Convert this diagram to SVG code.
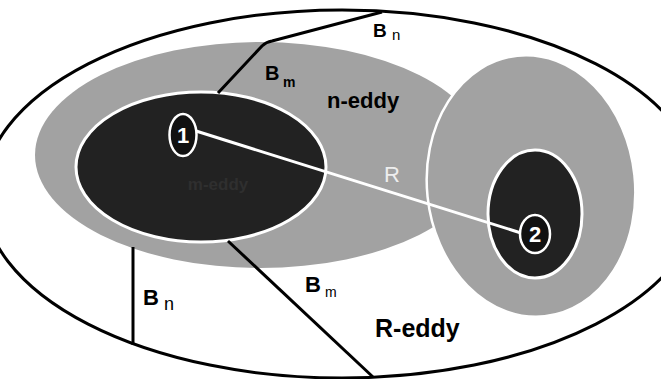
<svg xmlns="http://www.w3.org/2000/svg" width="661" height="379" viewBox="0 0 661 379">
  <style>
    .lbl { font-family: "Liberation Sans", Arial, sans-serif; font-weight: bold; fill: #000; }
    .sub { font-family: "Liberation Sans", Arial, sans-serif; font-weight: normal; fill: #000; }
    .wht { font-family: "Liberation Sans", Arial, sans-serif; font-weight: bold; fill: #fff; }
    .gray { fill: #a2a2a2; }
    .dark { fill: #222; stroke: #fff; stroke-width: 3; }
    .bline { fill: none; stroke: #000; stroke-width: 3; stroke-linejoin: round; }
  </style>
  <rect width="661" height="379" fill="#fff"/>
  <g id="r-eddy-region">
    <ellipse cx="342" cy="194" rx="359" ry="184" fill="#fff" stroke="#000" stroke-width="3"/>
  </g>
  <g id="n-eddy">
    <ellipse class="gray" cx="260" cy="155" rx="225" ry="113"/>
  </g>
  <g id="eddy2-outer">
    <ellipse class="gray" cx="531" cy="186" rx="104" ry="131" transform="rotate(-6 531 186)" stroke="#fff" stroke-width="2.5"/>
  </g>
  <g id="m-eddy">
    <ellipse class="dark" cx="201" cy="167" rx="125" ry="75"/>
    <text x="218" y="190" font-family="Liberation Sans, Arial, sans-serif" font-size="17" font-weight="bold" fill="#2f2f2f" text-anchor="middle">m-eddy</text>
  </g>
  <g id="eddy2-inner">
    <ellipse class="dark" cx="535" cy="214" rx="47" ry="64"/>
  </g>
  <g id="connectors">
    <path class="bline" d="M218,93 L262,46 Q266,42 272,41 L382,12"/>
    <path class="bline" d="M228,241 L373,377"/>
    <path class="bline" stroke-width="2" d="M133,247 L133,345"/>
    <line x1="196" y1="131" x2="521" y2="233" stroke="#fff" stroke-width="3"/>
  </g>
  <g id="node1">
    <ellipse cx="183" cy="135" rx="13.5" ry="21" fill="#111" stroke="#fff" stroke-width="2.5"/>
    <text class="wht" x="183" y="143" font-size="22" text-anchor="middle">1</text>
  </g>
  <g id="node2">
    <ellipse cx="535" cy="234" rx="15" ry="19" fill="#111" stroke="#fff" stroke-width="2.5"/>
    <text class="wht" x="535" y="242" font-size="22" text-anchor="middle">2</text>
  </g>
  <g id="labels">
    <text class="lbl" x="373" y="37" font-size="19">B</text>
    <text class="sub" x="392" y="40" font-size="15">n</text>
    <text class="lbl" x="265" y="80" font-size="20">B</text>
    <text class="lbl" x="283" y="87" font-size="14">m</text>
    <text class="lbl" x="327" y="108" font-size="22">n-eddy</text>
    <text x="384" y="182" font-family="Liberation Sans, Arial, sans-serif" font-size="22" fill="#eee">R</text>
    <text class="lbl" x="143" y="305" font-size="22">B</text>
    <text class="sub" x="164" y="310" font-size="18">n</text>
    <text class="lbl" x="305" y="292" font-size="22">B</text>
    <text class="sub" x="325" y="297" font-size="14">m</text>
    <text class="lbl" x="375" y="337" font-size="25">R-eddy</text>
  </g>
</svg>
